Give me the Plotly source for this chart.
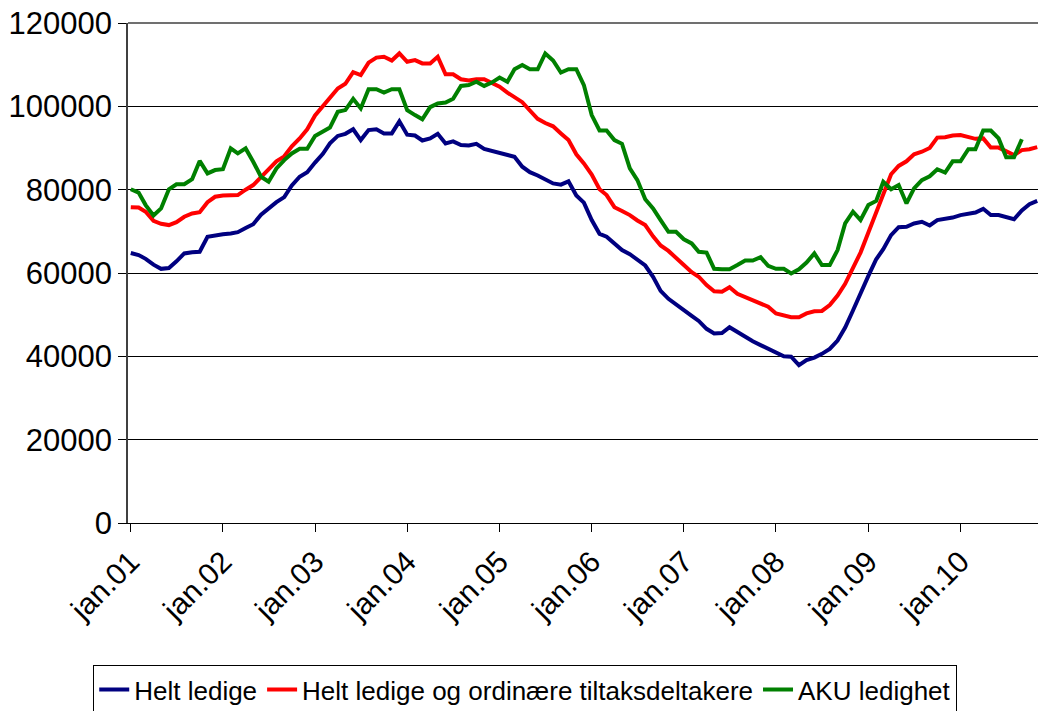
import pandas as pd
import plotly.graph_objects as go

# Monthly series, jan 2001 onward
helt_ledige = [
    64800, 64300, 63400, 62000, 61000, 61200, 62800, 64700, 65000, 65100, 68700, 69100,
    69300, 69500, 69800, 70800, 71700, 74000, 75500, 77000, 78200, 81000, 83100, 84200,
    86500, 88600, 91100, 92900, 93400, 94500, 91900, 94300, 94500, 93500, 93500, 96400,
    93200, 93000, 91800, 92300, 93400, 91100, 91600, 90700, 90600, 91000, 89800, 89300,
    88800, 88200, 87900, 85500, 84200, 83400, 82500, 81500, 81200, 82000, 78600, 76900,
    72700, 69400, 68700, 67000, 65500, 64500, 63100, 61800, 59100, 55700, 53800, 52400,
    50900, 49700, 48500, 46600, 45500, 45600, 47000, 45800, 44800, 43600, 42700, 41900,
    41000, 40000, 39900, 37900, 39100, 39700, 40600, 41800, 43800, 46900, 51000, 55300,
    59300, 63300, 65700, 69100, 71000, 71100, 71900, 72300, 71400, 72700, 72900, 73300,
    73900, 74100, 74500, 75400, 73900, 73900, 73400, 72900, 75000, 76500, 77300,
]

helt_ledige_tiltak = [
    75800, 75700, 74700, 72500, 71800, 71500, 72200, 73500, 74300, 74600, 77000, 78300,
    78600, 78700, 78700, 80000, 81100, 83000, 84900, 86800, 88000, 90400, 92300, 94500,
    97800, 100000, 102100, 104300, 105400, 108200, 107500, 110500, 111700, 111900, 111000, 112700,
    110700, 111100, 110300, 110300, 111900, 107700, 107700, 106500, 106200, 106500, 106500, 105700,
    104700, 103300, 102300, 101000, 99000, 97000, 96000, 95200, 93500, 91900, 88500, 86300,
    83600, 80100, 78700, 75800, 74900, 73900, 72600, 71500, 68800, 66600, 65300, 63500,
    61900, 60200, 59100, 57100, 55600, 55500, 56600, 55000, 54200, 53400, 52700, 51900,
    50300, 49800, 49400, 49400, 50300, 50800, 50900, 52300, 54600, 57400, 61000, 64900,
    69700, 74600, 79200, 83700, 85700, 86800, 88500, 89100, 90000, 92500, 92600, 93000,
    93100, 92700, 92200, 92300, 90100, 90100, 89100, 88300, 89500, 89700, 90200,
]

aku_ledighet = [
    80100, 79300, 76300, 73800, 75500, 80100, 81300, 81300, 82500, 86900, 83900, 84700,
    84900, 89900, 88700, 89900, 86700, 83100, 81900, 85100, 87100, 88700, 89800, 89800,
    92900, 93900, 94900, 98700, 99100, 101800, 99500, 104100, 104100, 103300, 104100, 104100,
    99100, 97900, 96900, 99800, 100700, 100900, 101800, 104900, 105100, 105900, 104900, 105700,
    106900, 105900, 108900, 109900, 108900, 108900, 112700, 111000, 108100, 108900, 108900, 105100,
    97900, 94200, 94200, 91900, 91000, 85100, 82300, 77700, 75500, 72700, 69900, 69900,
    68100, 67100, 65100, 64900, 61000, 60900, 60900, 61900, 63000, 63000, 63800, 61700,
    61000, 61000, 59900, 60900, 62500, 64700, 61900, 61900, 65500, 71900, 74700, 72700,
    76300, 77300, 81900, 80100, 81100, 76700, 80300, 82300, 83200, 84900, 84100, 86800,
    86800, 89700, 89700, 94200, 94200, 92300, 87800, 87800, 92100,
]

series_names = ["Helt ledige", "Helt ledige og ordinære tiltaksdeltakere", "AKU ledighet"]
series_colors = ["#000080", "#FF0000", "#008000"]

y_ticks = [0, 20000, 40000, 60000, 80000, 100000, 120000]
tick_dates = pd.date_range("2001-01-01", "2010-01-01", freq="YS")
tick_labels = ["jan.01", "jan.02", "jan.03", "jan.04", "jan.05",
               "jan.06", "jan.07", "jan.08", "jan.09", "jan.10"]

months = pd.date_range("2001-01-01", periods=len(helt_ledige), freq="MS")

fig = go.Figure()
for name, vals, col in zip(series_names,
                           [helt_ledige, helt_ledige_tiltak, aku_ledighet],
                           series_colors):
    fig.add_trace(go.Scatter(
        x=months[:len(vals)], y=vals, mode="lines", name=name,
        line=dict(color=col, width=4),
    ))

font_family = "Arial, Liberation Sans, sans-serif"

fig.update_layout(
    width=1038, height=711,
    margin=dict(l=128, r=0, t=23, b=188, autoexpand=False),
    paper_bgcolor="white", plot_bgcolor="white",
    font=dict(family=font_family, color="black"),
    showlegend=True,
    legend=dict(
        orientation="h",
        xref="container", yref="container",
        x=0.506, xanchor="center",
        y=0.0647, yanchor="top",
        bordercolor="black", borderwidth=1,
        bgcolor="white",
        font=dict(size=26, family=font_family, color="black"),
        itemwidth=30,
        tracegroupgap=0,
    ),
    xaxis=dict(
        type="date", automargin=False,
        range=["2000-12-21", "2010-11-04"],
        tickvals=tick_dates, ticktext=tick_labels,
        tickangle=-45,
        tickfont=dict(size=30, family=font_family, color="black"),
        ticks="outside", ticklen=8, tickcolor="black",
        ticklabeloverflow="allow",
        showline=True, linecolor="black", linewidth=1,
        showgrid=False, zeroline=False,
    ),
    yaxis=dict(
        automargin=False,
        range=[0, 120000],
        tickmode="array", tickvals=y_ticks,
        ticktext=[str(v) for v in y_ticks],
        tickfont=dict(size=31, family=font_family, color="black"),
        ticks="outside", ticklen=8, tickcolor="black",
        ticklabeloverflow="allow",
        showline=True, linecolor="#404040", linewidth=1.5,
        showgrid=True, gridcolor="black", gridwidth=1,
        zeroline=False,
    ),
    shapes=[dict(type="line", xref="paper", yref="paper", x0=0, x1=1, y0=1, y1=1,
                 line=dict(color="#707070", width=2), layer="above")],
)

# Remove the default 8px page margin so the figure sits at the window's corner
fig.write_html("out.html", config={"displayModeBar": False},
               post_script="document.body.style.margin='0';")
